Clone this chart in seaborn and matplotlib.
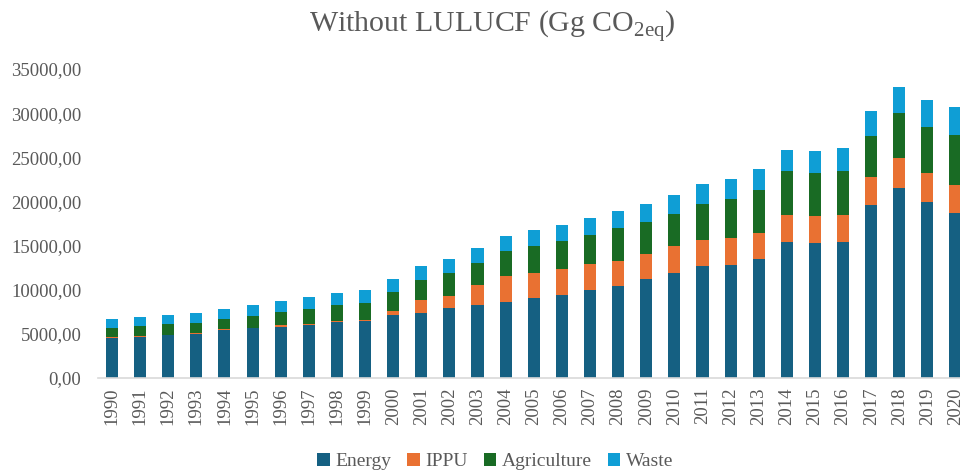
import matplotlib
matplotlib.use("Agg")
import matplotlib.pyplot as plt
from matplotlib.patches import Patch
from matplotlib.ticker import FuncFormatter, MultipleLocator
import numpy as np
import pandas as pd
import seaborn as sns

# Greenhouse gas emissions by sector, Gg CO2eq
years = [str(y) for y in range(1990, 2021)]
energy = [4570, 4680, 4830, 5020, 5440, 5620, 5810, 6000, 6340, 6450,
          7130, 7400, 7890, 8270, 8640, 9060, 9400, 9970, 10380, 11250,
          11930, 12650, 12760, 13510, 15440, 15290, 15440, 19590, 21550, 19900,
          18720]
ippu = [80, 100, 80, 100, 150, 100, 150, 120, 100, 120,
        460, 1430, 1430, 2230, 2880, 2870, 2980, 2940, 2870, 2790,
        2980, 3010, 3060, 2950, 2990, 3090, 3050, 3210, 3370, 3320,
        3100]
agriculture = [1010, 1140, 1170, 1110, 1060, 1300, 1510, 1730, 1860, 1920,
               2190, 2300, 2530, 2560, 2830, 3050, 3100, 3320, 3700, 3630,
               3660, 4080, 4420, 4830, 4980, 4800, 4920, 4640, 5090, 5240,
               5660]
waste = [990, 1020, 1020, 1170, 1200, 1250, 1290, 1320, 1360, 1480,
         1430, 1550, 1590, 1620, 1730, 1780, 1880, 1920, 2000, 2030,
         2120, 2190, 2300, 2380, 2450, 2560, 2670, 2800, 2950, 3020,
         3170]
sectors = ["Energy", "IPPU", "Agriculture", "Waste"]
colors = ["#156082", "#E97132", "#196B24", "#0F9ED5"]

df = pd.DataFrame({"year": years, "Energy": energy, "IPPU": ippu,
                   "Agriculture": agriculture, "Waste": waste})
cum = df[sectors].cumsum(axis=1)

sns.set_theme(style="white")
plt.rcParams["font.family"] = ["Liberation Serif", "DejaVu Serif"]
grey = "#595959"

fig = plt.figure(figsize=(9.6, 4.73), dpi=100)
ax = fig.add_axes([0.102, 0.2008, 0.908, 0.6532])

# stacked bars: draw cumulative totals from the top layer down
for sec, col in zip(sectors[::-1], colors[::-1]):
    sns.barplot(x=df["year"], y=cum[sec], color=col, width=0.43,
                saturation=1, ax=ax, order=years, linewidth=0,
                edgecolor="none")

ax.set_xlim(-0.5, 30.5)
ax.set_ylim(0, 35000)
ax.yaxis.set_major_locator(MultipleLocator(5000))
ax.yaxis.set_major_formatter(FuncFormatter(lambda v, p: f"{v:.2f}".replace(".", ",")))
ax.set_xlabel("")
ax.set_ylabel("")
ax.tick_params(axis="both", length=0, colors=grey, labelsize=13.5)
ax.tick_params(axis="x", rotation=90, pad=7)
ax.tick_params(axis="y", pad=12)
for s in ["top", "right", "left"]:
    ax.spines[s].set_visible(False)
ax.spines["bottom"].set_color("#d9d9d9")
ax.spines["bottom"].set_linewidth(1.2)

fig.text(0.513, 0.944, "Without LULUCF (Gg CO$_{\\mathregular{2eq}}$)",
         ha="center", va="center", fontsize=21.5, color=grey,
         family="Liberation Serif")

handles = [Patch(facecolor=c, edgecolor="none", label=s) for s, c in zip(sectors, colors)]
fig.legend(handles=handles, loc="center", bbox_to_anchor=(0.516, 0.024), ncol=4,
           frameon=False, fontsize=14, labelcolor=grey, handlelength=0.65,
           handleheight=0.65, handletextpad=0.3, columnspacing=0.8)

fig.savefig("out.png", dpi=100, facecolor="white")
